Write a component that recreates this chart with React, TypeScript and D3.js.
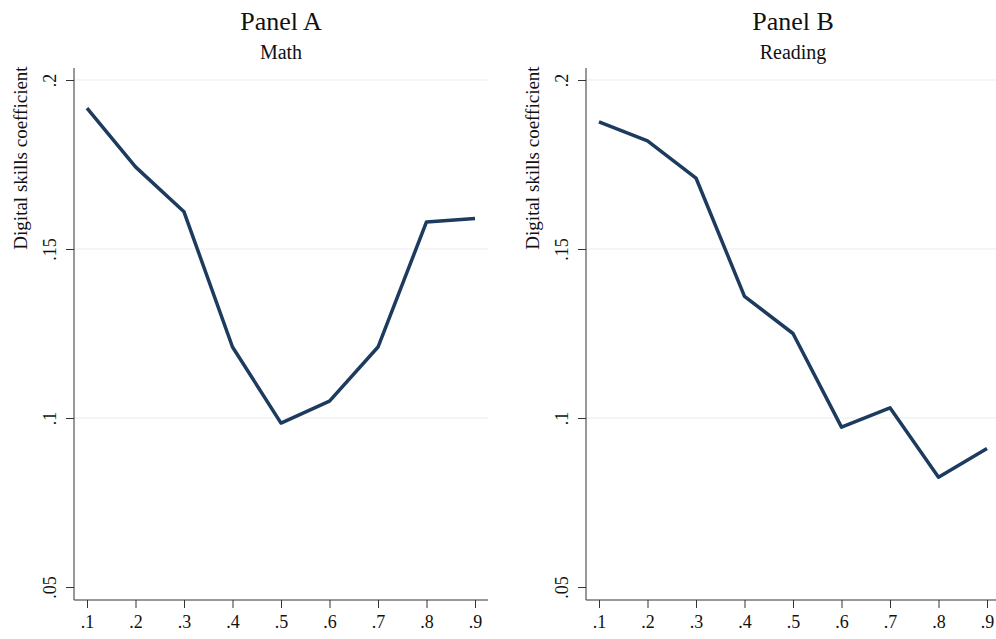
import { useEffect, useRef } from "react";
import * as d3 from "d3";

const width = 996;
const height = 639;

// quantiles on the x axis
const quantiles = [0.1, 0.2, 0.3, 0.4, 0.5, 0.6, 0.7, 0.8, 0.9];
const xTickLabels = [".1", ".2", ".3", ".4", ".5", ".6", ".7", ".8", ".9"];
const yTicks = [0.05, 0.1, 0.15, 0.2];
const yTickLabels = [".05", ".1", ".15", ".2"];

// digital skills coefficient by quantile
const mathValues = [0.1917, 0.1743, 0.161, 0.121, 0.0985, 0.105, 0.121, 0.158, 0.159];
const readingValues = [0.1876, 0.182, 0.171, 0.136, 0.125, 0.0973, 0.103, 0.0825, 0.091];

const panelTitles = ["Panel A", "Panel B"];
const panelSubtitles = ["Math", "Reading"];
const yLabel = "Digital skills coefficient";

const font = "'Liberation Serif', 'Times New Roman', serif";
const lineColor = "#1c3b5e";

const plotTop = 68;
const plotBottom = 600;
const panelLayout = [
  { left: 74, right: 488 },
  { left: 586, right: 1000 },
];

type PanelProps = {
  title: string;
  subtitle: string;
  values: number[];
  left: number;
  right: number;
};

const Panel = ({ title, subtitle, values, left, right }: PanelProps) => {
  const xAxisRef = useRef<SVGGElement>(null);
  const yAxisRef = useRef<SVGGElement>(null);

  const xScale = d3
    .scaleLinear()
    .domain([0.1, 0.9])
    .range([left + 13, right - 13]);
  const yScale = d3.scaleLinear().domain([0.05, 0.2]).range([587, 80]);

  const line = d3
    .line<number>()
    .x((_, i) => xScale(quantiles[i]))
    .y((d) => yScale(d));

  useEffect(() => {
    if (xAxisRef.current) {
      const xAxis = d3
        .axisBottom(xScale)
        .tickValues(quantiles)
        .tickFormat((_, i) => xTickLabels[i])
        .tickSize(8)
        .tickSizeOuter(0);
      const g = d3.select(xAxisRef.current).call(xAxis);
      g.select(".domain").remove();
      g.selectAll(".tick line").attr("stroke", "#333");
      g.selectAll(".tick text")
        .attr("y", 28)
        .attr("dy", 0)
        .attr("font-size", 18)
        .attr("font-family", font)
        .attr("fill", "#111");
    }
    if (yAxisRef.current) {
      const yAxis = d3
        .axisLeft(yScale)
        .tickValues(yTicks)
        .tickFormat((_, i) => yTickLabels[i])
        .tickSize(8)
        .tickSizeOuter(0);
      const g = d3.select(yAxisRef.current).call(yAxis);
      g.select(".domain").remove();
      g.selectAll(".tick line").attr("stroke", "#333");
      g.selectAll(".tick text")
        .attr("x", 0)
        .attr("y", -18)
        .attr("dy", 0)
        .attr("transform", "rotate(-90)")
        .attr("text-anchor", "middle")
        .attr("font-size", 18)
        .attr("font-family", font)
        .attr("fill", "#111");
    }
  }, [xScale, yScale]);

  const cx = (left + right) / 2;

  return (
    <g>
      <text x={cx} y={30} textAnchor="middle" fontSize={26} fontFamily={font} fill="#111">
        {title}
      </text>
      <text x={cx} y={59} textAnchor="middle" fontSize={20} fontFamily={font} fill="#111">
        {subtitle}
      </text>
      {/* gridlines */}
      {yTicks
        .filter((t) => t > 0.05)
        .map((t) => (
          <line
            key={t}
            x1={left}
            x2={right}
            y1={yScale(t)}
            y2={yScale(t)}
            stroke="#ececec"
            strokeWidth={1.2}
          />
        ))}
      <path d={line(values) ?? undefined} fill="none" stroke={lineColor} strokeWidth={3.5} strokeLinejoin="round" />
      {/* axis lines */}
      <line x1={left} x2={left} y1={plotTop} y2={plotBottom} stroke="#333" />
      <line x1={left} x2={right} y1={plotBottom} y2={plotBottom} stroke="#333" />
      <g ref={xAxisRef} transform={`translate(0, ${plotBottom})`} />
      <g ref={yAxisRef} transform={`translate(${left}, 0)`} />
      <text
        transform={`translate(${left - 47}, 158) rotate(-90)`}
        textAnchor="middle"
        fontSize={19}
        fontFamily={font}
        fill="#111"
      >
        {yLabel}
      </text>
    </g>
  );
};

const App = () => {
  const series = [mathValues, readingValues];
  return (
    <svg
      width={width}
      height={height}
      style={{ position: "absolute", left: 0, top: 0, background: "#fff" }}
    >
      <rect width={width} height={height} fill="#fff" />
      {panelLayout.map((p, i) => (
        <Panel
          key={i}
          title={panelTitles[i]}
          subtitle={panelSubtitles[i]}
          values={series[i]}
          left={p.left}
          right={p.right}
        />
      ))}
    </svg>
  );
};

export default App;
